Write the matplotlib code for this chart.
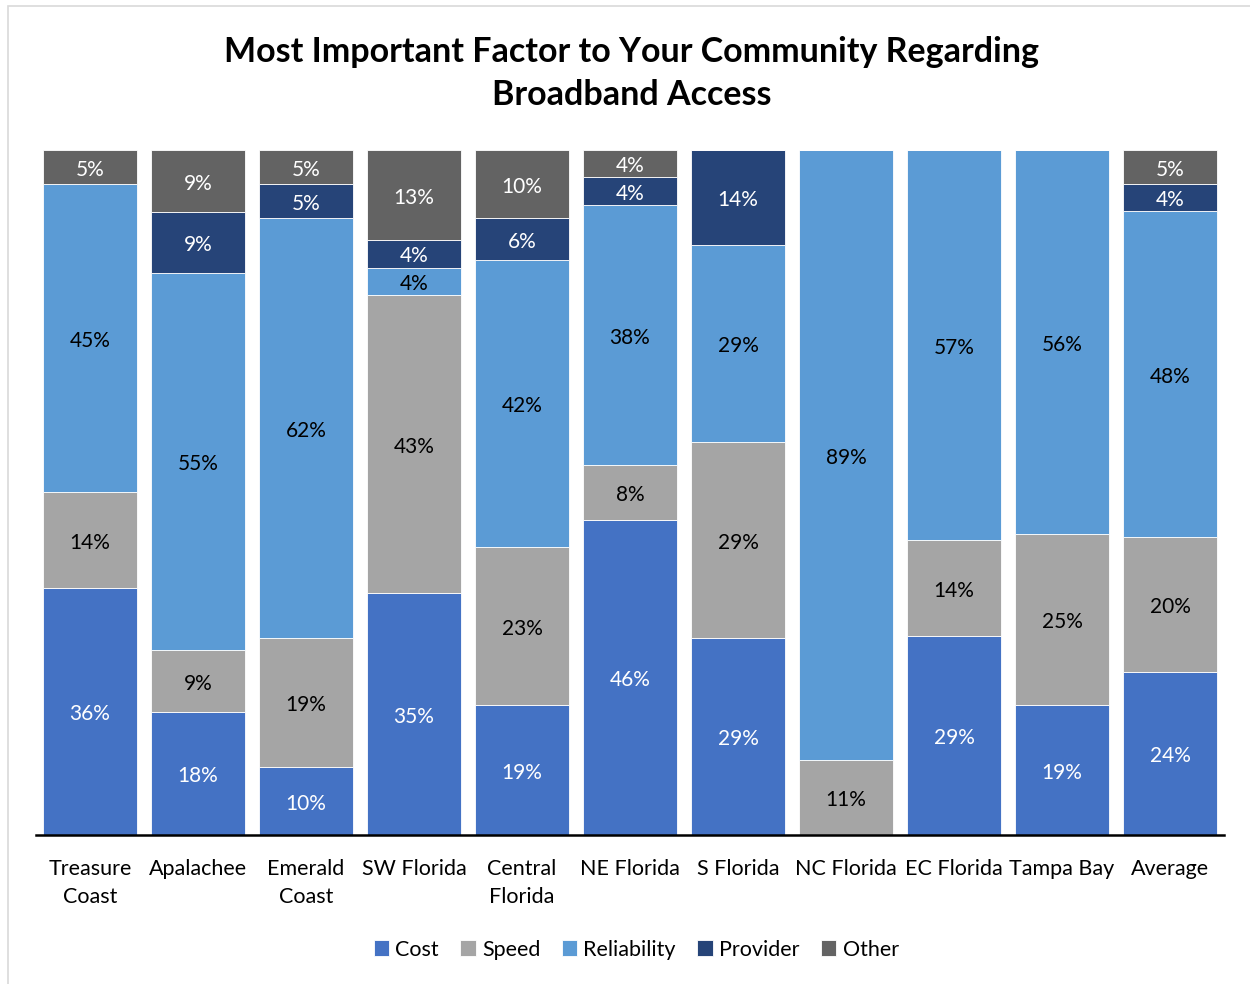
import matplotlib
matplotlib.use('Agg')
import matplotlib.pyplot as plt
from matplotlib.patches import Rectangle
import numpy as np

plt.rcParams['font.family'] = ['Lato', 'DejaVu Sans']

regions = ['Treasure\nCoast', 'Apalachee', 'Emerald\nCoast', 'SW Florida', 'Central\nFlorida',
           'NE Florida', 'S Florida', 'NC Florida', 'EC Florida', 'Tampa Bay', 'Average']

cost        = [36, 18, 10, 35, 19, 46, 29, 0, 29, 19, 24]
speed       = [14, 9, 19, 43, 23, 8, 29, 11, 14, 25, 20]
reliability = [45, 55, 62, 4, 42, 38, 29, 89, 57, 56, 48]
provider    = [0, 9, 5, 4, 6, 4, 14, 0, 0, 0, 4]
other       = [5, 9, 5, 13, 10, 4, 0, 0, 0, 0, 5]

series = [('Cost', cost, '#4472C4', 'white'),
          ('Speed', speed, '#A5A5A5', 'black'),
          ('Reliability', reliability, '#5B9BD5', 'black'),
          ('Provider', provider, '#264478', 'white'),
          ('Other', other, '#636363', 'white')]

totals = np.sum([s[1] for s in series], axis=0)

fig = plt.figure(figsize=(12.5, 9.84), dpi=100)
ax = fig.add_axes([0.0288, 0.1514, 0.9504, 0.6962])

# light frame around the chart area
fig.patches.append(Rectangle((8 / 1250, -0.01), 1.02, 1 - 6 / 984 + 0.01,
                             transform=fig.transFigure, fill=False,
                             edgecolor='#D9D9D9', linewidth=1.2))

x = np.arange(len(regions))
bottom = np.zeros(len(regions))
for name, vals, color, txt in series:
    frac = np.array(vals) / totals
    ax.bar(x, frac, width=0.87, bottom=bottom, color=color, label=name,
           edgecolor='white', linewidth=0.6)
    for xi, v, f, b in zip(x, vals, frac, bottom):
        if v > 0:
            ax.text(xi, b + f / 2 - 0.004, f'{v}%', ha='center', va='center',
                    fontsize=15, color=txt)
    bottom += frac

ax.set_xlim(-0.5, len(regions) - 0.5)
ax.set_ylim(0, 1)
ax.set_yticks([])
ax.set_xticks(x)
ax.set_xticklabels(regions, fontsize=15.5, linespacing=1.5)
ax.tick_params(axis='x', length=0, pad=17)
for s in ['top', 'right', 'left']:
    ax.spines[s].set_visible(False)
ax.spines['bottom'].set_linewidth(1.8)

fig.text(0.505, 0.9253, 'Most Important Factor to Your Community Regarding\nBroadband Access',
         ha='center', va='center', fontsize=24.5, fontweight='bold', linespacing=1.45)

fig.legend(loc='center', bbox_to_anchor=(0.509, 0.035), ncol=5, frameon=False,
           fontsize=15.5, handlelength=0.7, handleheight=0.7, handletextpad=0.3,
           columnspacing=1.0)

fig.savefig('out.png', dpi=100)
